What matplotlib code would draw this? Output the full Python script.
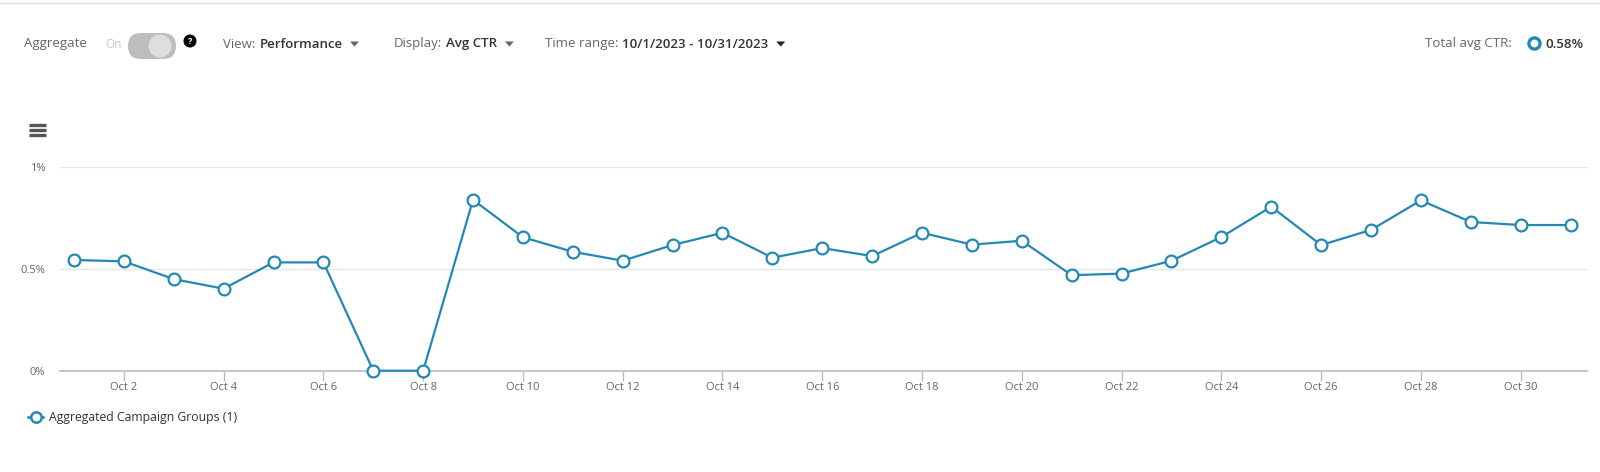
import numpy as np
import matplotlib
matplotlib.use("Agg")
import matplotlib.pyplot as plt
from matplotlib.patches import FancyBboxPatch, Circle, Polygon

# ==========================================
# data
# ==========================================
days = list(range(1, 32))
ctr = [0.543, 0.536, 0.449, 0.402, 0.531, 0.531, 0.0, 0.0, 0.838, 0.654,
       0.583, 0.539, 0.616, 0.676, 0.554, 0.601, 0.562, 0.676, 0.618, 0.637,
       0.468, 0.476, 0.539, 0.655, 0.804, 0.616, 0.690, 0.835, 0.729, 0.714,
       0.714]
tick_days = list(range(2, 31, 2))
tick_labels = [f"Oct {d}" for d in tick_days]
y_ticks = [0, 0.5, 1]
y_labels = ["0%", "0.5%", "1%"]
series_name = "Aggregated Campaign Groups (1)"
total_avg = "0.58%"

line_col = "#2389b4"
grey_txt = "#666666"
dark_txt = "#333333"

plt.rcParams['font.family'] = ['Open Sans', 'DejaVu Sans']

W, H = 1600, 472
fig = plt.figure(figsize=(W / 100, H / 100), dpi=100)

# ==========================================
# main chart
# ==========================================
ax = fig.add_axes([60 / W, 1 - 370.7 / H, (1587 - 60) / W, 204 / H])
ax.plot(days, ctr, color=line_col, lw=1.6, marker='o', ms=8.5,
        mfc='white', mec=line_col, mew=1.6, clip_on=False, zorder=3)
ax.set_xlim(0.72, 31.33)
ax.set_ylim(0, 1)
ax.set_xticks(tick_days)
ax.set_xticklabels(tick_labels)
ax.set_yticks(y_ticks)
ax.set_yticklabels(y_labels)
ax.grid(axis='y', color='#e6e6e6', lw=1)
ax.set_axisbelow(True)
for s in ['top', 'right', 'left']:
    ax.spines[s].set_visible(False)
ax.spines['bottom'].set_color('#b8bcc4')
ax.spines['bottom'].set_linewidth(1.2)
ax.tick_params(axis='x', length=7, width=1, color='#b8bcc4', labelsize=8,
               labelcolor=grey_txt, pad=1)
ax.tick_params(axis='y', length=0, labelsize=8, labelcolor=grey_txt, pad=10.5)

# ==========================================
# overlay in pixel coords for header, icon, legend
# ==========================================
ov = fig.add_axes([0, 0, 1, 1], zorder=5)
ov.set_xlim(0, W)
ov.set_ylim(H, 0)
ov.axis('off')
ov.patch.set_alpha(0)

ov.plot([0, W], [3, 3], color='#dddddd', lw=1)

hy = 44
ov.text(24.5, hy, "Aggregate", fontsize=9.5, color=grey_txt, va='center')
ov.text(105, hy, "On", fontsize=8.5, color='#c8c8c8', va='center')
ov.add_patch(FancyBboxPatch((128, 33), 48, 26, boxstyle="round,pad=0,rounding_size=13",
                            fc='#bdbdbd', ec='none'))
ov.add_patch(Circle((160, 46), 11.5, fc='#dedede', ec='none'))
ov.add_patch(Circle((190, 41), 6.5, fc='black', ec='none'))
ov.text(190, 41.5, "?", fontsize=6.5, color='white', ha='center', va='center',
        fontweight='bold')

renderer = fig.canvas.get_renderer()

def tri(x, y, col):
    ov.add_patch(Polygon([[x - 4.5, y - 2.5], [x + 4.5, y - 2.5], [x, y + 2.5]],
                         closed=True, fc=col, ec='none'))

def dropdown(x, label, value, tri_col):
    # label in grey, value in dark right after it, then the arrow
    t = ov.text(x, hy, label, fontsize=9.5, color=grey_txt, va='center')
    x1 = t.get_window_extent(renderer).x1 + 4
    t2 = ov.text(x1, hy, value, fontsize=9.5, color=dark_txt, va='center',
                 fontweight='semibold')
    x2 = t2.get_window_extent(renderer).x1
    tri(x2 + 12, hy, tri_col)

dropdown(223, "View:", "Performance", '#666666')
dropdown(394, "Display:", "Avg CTR", '#666666')
dropdown(545, "Time range:", "10/1/2023 - 10/31/2023", '#222222')

ov.text(1512, hy, "Total avg CTR:", fontsize=9.5, color=grey_txt, va='center', ha='right')
ov.plot([1534], [hy - 1], marker='o', ms=8, mfc='white', mec=line_col, mew=2.4)
ov.text(1545, hy, total_avg, fontsize=9.5, color=dark_txt, va='center',
        fontweight='semibold')

# hamburger icon
for yy in [124.5, 129.5, 134.5]:
    ov.plot([29, 46], [yy, yy], color='#555555', lw=2.4, solid_capstyle='butt')

# legend
ov.plot([28, 43], [417, 417], color=line_col, lw=1.8)
ov.plot([36], [417], marker='o', ms=7.5, mfc='white', mec=line_col, mew=1.8)
ov.text(49, 417, series_name, fontsize=8.8, color=dark_txt, va='center')

fig.savefig("out.png", dpi=100)
